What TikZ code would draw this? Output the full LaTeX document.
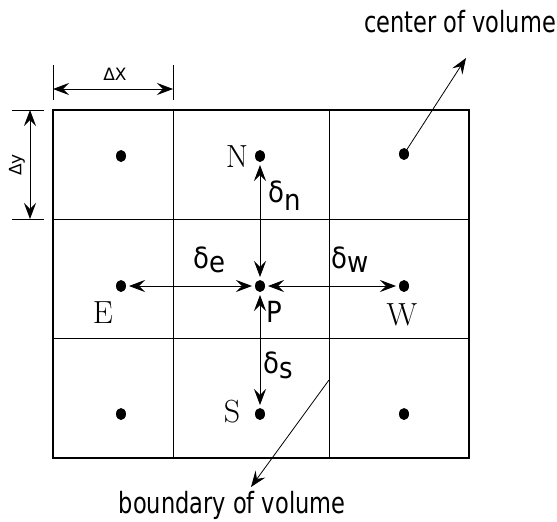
\documentclass[tikz,border=0pt]{standalone}
\usepackage{fontspec}
\newfontfamily\lblfont{DejaVu Sans}
\usepackage{tikz}
\usetikzlibrary{arrows.meta}
\usetikzlibrary{shapes.geometric}
\newcommand{\tallbox}[2]{\scalebox{1}[#1]{#2}}

\begin{document}
\begin{tikzpicture}[x=1pt,y=-1pt,
   dot/.style={ellipse,fill=black,inner sep=0pt,minimum width=10pt,minimum height=12pt,outer sep=3pt},
   thinline/.style={line width=0.8pt},
   twoway/.style={line width=0.8pt,{Stealth[length=16pt,width=12pt,inset=6pt]}-{Stealth[length=16pt,width=12pt,inset=6pt]}},
   oneway/.style={line width=0.8pt,-{Stealth[length=16pt,width=12pt,inset=6pt]}},
   serif/.style={inner sep=0pt,font=\fontsize{32}{34}\selectfont},
   sans/.style={inner sep=0pt,font=\lblfont\fontsize{26}{30}\selectfont},
   note/.style={inner sep=0pt,font=\lblfont\fontsize{22.5}{26}\selectfont},
   small/.style={inner sep=0pt,font=\lblfont\fontsize{17}{19}\selectfont}]
   \useasboundingbox (0,0) rectangle (557,522);

   \path
    (53,65) coordinate (xa1) (53,100) coordinate (xa2)
    (173,65) coordinate (xb1) (173,100) coordinate (xb2)
    (53,89) coordinate (xl) (173,89) coordinate (xr)
    (12,110) coordinate (ya1) (44,110) coordinate (ya2)
    (12,219) coordinate (yb1) (44,219) coordinate (yb2)
    (30,110) coordinate (yt) (30,219) coordinate (yb)
    (466,58) coordinate (cv)
    (329,380) coordinate (bv1) (251,487) coordinate (bv2)
    ;

   % 网格
   \draw[line width=1.8pt] (53,110) rectangle (469,458);
   \draw[thinline] (173,110) -- (173,458) (329,110) -- (329,458)
    (53,219) -- (469,219) (53,338) -- (469,338);

   % 尺寸线
   \draw[thinline] (xa1) -- (xa2) (xb1) -- (xb2) (ya1) -- (ya2) (yb1) -- (yb2);
   \draw[twoway] (xl) -- (xr);
   \draw[twoway] (yt) -- (yb);
   \node[small] (dx) at (115,74) {ΔX};
   \node[small,rotate=90] (dy) at (17,165) {Δy};

   % 控制体中心点
   \node[dot] (cNW) at (121,156) {};
   \node[dot] (N) at (260,156) {};
   \node[dot] (cNE) at (404,154) {};
   \node[dot] (E) at (121,286) {};
   \node[dot] (P) at (260,286) {};
   \node[dot] (W) at (404,286) {};
   \node[dot] (cSW) at (121,414) {};
   \node[dot] (S) at (260,414) {};
   \node[dot] (cSE) at (404,414) {};

   % 字母
   \node[serif] (lN) at (237,157) {N};
   \node[serif] (lE) at (103,313) {E};
   \node[serif] (lW) at (402,315) {W};
   \node[serif] (lS) at (232,412) {S};
   \node[sans] (lP) at (274,312) {\tallbox{1.12}{P}};

   % 距离
   \draw[twoway] (N) -- (P);
   \draw[twoway] (E) -- (P);
   \draw[twoway] (P) -- (W);
   \draw[twoway] (P) -- (S);
   \node[sans,anchor=base west] (dn) at (268,202) {\tallbox{1.12}{δ\raisebox{-8pt}{n}}};
   \node[sans,anchor=base west] (de) at (193,268) {\tallbox{1.12}{δ\raisebox{-4pt}{e}}};
   \node[sans,anchor=base west] (dw) at (331,268) {\tallbox{1.12}{δ\raisebox{-4pt}{w}}};
   \node[sans,anchor=base west] (ds) at (263,373) {\tallbox{1.12}{δ\raisebox{-5pt}{s}}};

   % 说明
   \draw[oneway] (cNE.center) -- (cv);
   \draw[oneway] (bv1) -- (bv2);
   \node[note] (tcv) at (460,22) {\tallbox{1.3}{center of volume}};
   \node[note] (tbv) at (232,505) {\tallbox{1.3}{boundary of volume}};

\end{tikzpicture}
\end{document}
